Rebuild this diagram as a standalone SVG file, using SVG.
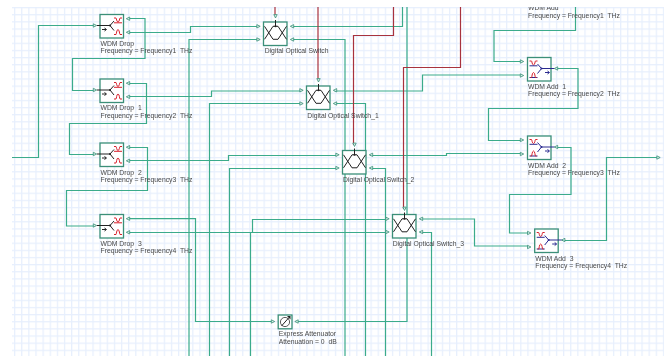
<svg xmlns="http://www.w3.org/2000/svg" width="669" height="356" viewBox="0 0 669 356">
<style>
.c{fill:none;stroke:#3aab8b;stroke-width:1.2}
.r{fill:none;stroke:#a8323e;stroke-width:1.2}
.box{fill:#fff;stroke:#3a8f78;stroke-width:1.3}
.pin{fill:#d8efe8;stroke:#3a8f78;stroke-width:.8}
.k{fill:none;stroke:#222;stroke-width:1}
.b{fill:none;stroke:#2a2a90;stroke-width:1}
.f{fill:none;stroke:#d8202c;stroke-width:1}
.t{font-family:"Liberation Sans",Arial,sans-serif;font-size:6.8px;fill:#484848;white-space:pre}
</style>
<defs>
<pattern id="grid" patternUnits="userSpaceOnUse" width="7.13" height="7.14" x="14" y="7">
<rect width="7.13" height="7.14" fill="#fff"/>
<rect width="1.2" height="7.14" fill="#e7effd"/>
<rect width="7.13" height="1.2" fill="#e7effd"/>
</pattern>
<filter id="soft" x="0" y="0" width="669" height="356" filterUnits="userSpaceOnUse"><feGaussianBlur stdDeviation="0.3"/></filter>
<clipPath id="top"><rect x="0" y="7" width="669" height="349"/></clipPath>
<path id="pr" class="pin" d="M-1.7 -1.7 L1.7 0 L-1.7 1.7Z"/>
<path id="pl" class="pin" d="M1.7 -1.7 L-1.7 0 L1.7 1.7Z"/>
<path id="pd" class="pin" d="M-1.7 -1.7 L1.7 -1.7 L0 1.7Z"/>
<g id="drop">
<path class="k" d="M-3 11H10L14 6.5M10 11L14 16M2 15H6M4.5 13.5L6.5 15L4.5 16.5"/>
<circle cx="10" cy="11" r="1" fill="#222"/>
<path class="f" d="M14 3.5H16C16.5 3.5 16.5 7.5 18 7.5S19.5 3.5 20 3.5H22M14 8.3H22"/>
<path class="f" d="M14 20H16C16.5 20 16.5 15 18 15S19.5 20 20 20H22"/>
<use href="#pr" x="-5" y="11"/><use href="#pl" x="28" y="4.2"/><use href="#pl" x="28" y="17.8"/>
</g>
<g id="add">
<path class="b" d="M27 11H14L10 6.5M14 11L10 16M17.5 15H21.5M20 13.5L22 15L20 16.5"/>
<circle cx="14" cy="11" r="1" fill="#2a2a90"/>
<path class="f" d="M2 3.5H4C4.5 3.5 4.5 7.5 6 7.5S7.5 3.5 8 3.5H10"/>
<path class="b" d="M2 8.3H10M2 20H10"/>
<path class="f" d="M3 20H4C4.5 20 4.5 15 6 15S7.5 20 8 20H9"/>
<use href="#pr" x="-5.5" y="4"/><use href="#pr" x="-5.5" y="18"/><use href="#pl" x="28.5" y="11"/>
</g>
<g id="sw">
<path class="k" d="M12 -2V4.3M1 4.3L9.5 17.3H14.5L23 4.3M1 17.3L9.5 4.3H14.5L23 17.3"/>
<circle cx="12" cy="4.3" r="1" fill="#222"/>
<use href="#pr" x="-5" y="4.3"/><use href="#pr" x="-5" y="17.5"/><use href="#pl" x="28.5" y="4.3"/><use href="#pl" x="28.5" y="17.5"/><use href="#pd" x="12" y="-5.7"/>
</g>
</defs>
<rect width="669" height="356" fill="#fff"/>
<g filter="url(#soft)">
<rect x="12" y="7" width="652" height="349" fill="url(#grid)"/>
<g id="connectors">
<path class="c" d="M12 157.5H38.5V25.5H94"/>
<path class="c" d="M128 18.5H145V58.5H72.5V90.5H94"/>
<path class="c" d="M128 32.5H190.5V26.5H258"/>
<path class="c" d="M128 83.5H146.5V123.5H69.5V154.5H94"/>
<path class="c" d="M128 96.5H211.5V91H301"/>
<path class="c" d="M128 147.5H147.5V190.5H66.5V226H94"/>
<path class="c" d="M128 160.5H228.5V155.5H337"/>
<path class="c" d="M337 168.5H229.5V356"/>
<path class="c" d="M128 218.7H195.5V321.5H272"/>
<path class="c" d="M128 232.5H252.5V219.5H386"/>
<path class="c" d="M386 232.5H250.5V356"/>
<path class="c" d="M258 39.5H189V356"/>
<path class="c" d="M301 103.5H209.5V356"/>
<path class="c" d="M291.5 26.5H402.5V7"/>
<path class="c" d="M291.5 39.5H345V356"/>
<path class="c" d="M334.5 91H422.5V75H521.5"/>
<path class="c" d="M334.5 103.5H365.5V356"/>
<path class="c" d="M370 155.5H446.5V153.5H521.5"/>
<path class="c" d="M370 168.5H385.5V356"/>
<path class="c" d="M420 219H474.5V246H528"/>
<path class="c" d="M420 232.5H431.5V356"/>
<path class="c" d="M296 321.5H407V7"/>
<path class="c" d="M575.5 7V30.5H494V61.5H521.5"/>
<path class="c" d="M555.5 68.5H578V108.5H488.5V140.5H521.5"/>
<path class="c" d="M555.5 147.5H571V194.5H509.5V233H528"/>
<path class="c" d="M562 240.5H606.5V157.5H657"/>
<path class="r" d="M275 7V16"/>
<path class="r" d="M318 7V80"/>
<path class="r" d="M353.5 145V35.5H393.5V7"/>
<path class="r" d="M403.5 209V67.5H460.5V7"/>
</g>
<use href="#pr" x="658.5" y="157.5"/>
<g id="wdm-drop"><rect class="box" x="100" y="14.5" width="23.5" height="23.5"/><use href="#drop" x="100" y="14.5"/><text class="t" x="100.5" y="46">WDM Drop</text><text class="t" x="100.5" y="53">Frequency = Frequency1  THz</text></g>
<g id="wdm-drop-1"><rect class="box" x="100" y="79" width="23.5" height="23.5"/><use href="#drop" x="100" y="79"/><text class="t" x="100.5" y="110.3">WDM Drop  1</text><text class="t" x="100.5" y="117.5">Frequency = Frequency2  THz</text></g>
<g id="wdm-drop-2"><rect class="box" x="100" y="143" width="23.5" height="23.5"/><use href="#drop" x="100" y="143"/><text class="t" x="100.5" y="174.5">WDM Drop  2</text><text class="t" x="100.5" y="181.5">Frequency = Frequency3  THz</text></g>
<g id="wdm-drop-3"><rect class="box" x="100" y="214.5" width="23.5" height="23.5"/><use href="#drop" x="100" y="214.5"/><text class="t" x="100.5" y="246">WDM Drop  3</text><text class="t" x="100.5" y="253">Frequency = Frequency4  THz</text></g>
<g id="switch-0"><rect class="box" x="263.5" y="22" width="23.5" height="23.5"/><use href="#sw" x="263.5" y="22"/><text class="t" x="264.7" y="53">Digital Optical Switch</text></g>
<g id="switch-1"><rect class="box" x="306.5" y="86" width="23.5" height="23.5"/><use href="#sw" x="306.5" y="86"/><text class="t" x="307.3" y="117.5">Digital Optical Switch_1</text></g>
<g id="switch-2"><rect class="box" x="342.5" y="150.5" width="23.5" height="23.5"/><use href="#sw" x="342.5" y="150.5"/><text class="t" x="343" y="182">Digital Optical Switch_2</text></g>
<g id="switch-3"><rect class="box" x="392.5" y="214.5" width="23.5" height="23.5"/><use href="#sw" x="392.5" y="214.5"/><text class="t" x="392.7" y="246">Digital Optical Switch_3</text></g>
<g id="wdm-add"><g clip-path="url(#top)"><text class="t" x="528" y="10">WDM Add</text></g><text class="t" x="528" y="17.5">Frequency = Frequency1  THz</text></g>
<g id="wdm-add-1"><rect class="box" x="527.5" y="57.5" width="23.5" height="23.5"/><use href="#add" x="527.5" y="57.5"/><text class="t" x="528" y="88.8">WDM Add  1</text><text class="t" x="528" y="96">Frequency = Frequency2  THz</text></g>
<g id="wdm-add-2"><rect class="box" x="527.5" y="136" width="23.5" height="23.5"/><use href="#add" x="527.5" y="136"/><text class="t" x="528" y="167.5">WDM Add  2</text><text class="t" x="528" y="175">Frequency = Frequency3  THz</text></g>
<g id="wdm-add-3"><rect class="box" x="534.7" y="229" width="23.5" height="23.5"/><use href="#add" x="534.7" y="229"/><text class="t" x="535.3" y="260.5">WDM Add  3</text><text class="t" x="535.3" y="268">Frequency = Frequency4  THz</text></g>
<g id="attenuator"><rect class="box" x="278.2" y="315" width="13.8" height="13.8"/><circle cx="285" cy="322" r="4.6" fill="none" stroke="#333" stroke-width=".8"/><path class="k" d="M281.5 326L289 317.5"/><path d="M287 316H290.5V319.5Z" fill="#222"/><use href="#pr" x="273" y="321.5"/><use href="#pl" x="296.5" y="321.5"/><text class="t" x="278.7" y="336.3">Express Attenuator</text><text class="t" x="278.7" y="343.5">Attenuation = 0  dB</text></g>
</g>
</svg>
